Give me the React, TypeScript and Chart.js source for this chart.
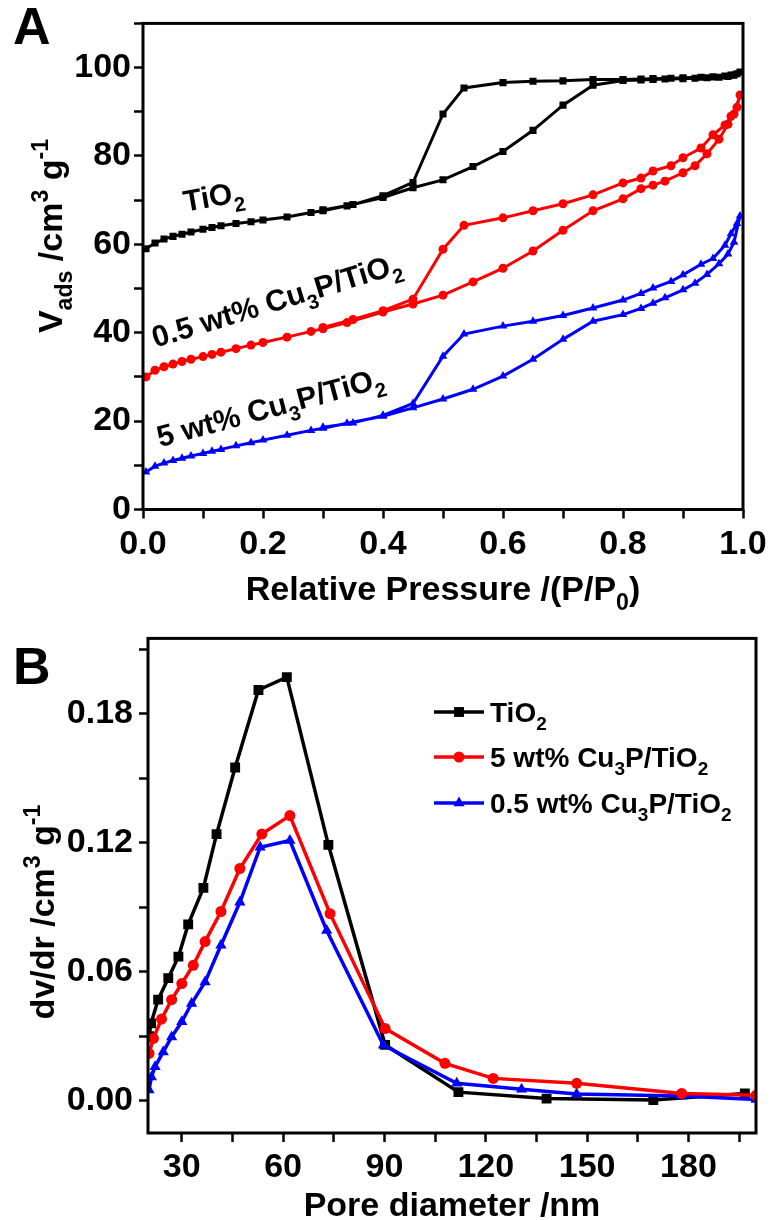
import React, { useEffect, useRef } from 'react';
import { Chart, registerables } from 'chart.js';

Chart.register(...registerables);

// ================= Panel A : N2 isotherms =================
// adsorption branch relative pressures (shared)
const A_ADS_P = [0.005, 0.02, 0.035, 0.05, 0.065, 0.08, 0.1, 0.115, 0.13, 0.155, 0.18, 0.2, 0.24, 0.28, 0.3, 0.34, 0.4, 0.45, 0.5, 0.55, 0.6, 0.65, 0.7, 0.75, 0.8, 0.83, 0.85, 0.87, 0.9, 0.92, 0.94, 0.96, 0.975, 0.985, 0.995];
// desorption branch relative pressures (shared)
const A_DES_P = [0.99, 0.98, 0.97, 0.95, 0.93, 0.9, 0.88, 0.85, 0.83, 0.8, 0.75, 0.7, 0.65, 0.6, 0.535, 0.5, 0.45, 0.4, 0.35, 0.3];

const A_TIO2_ADS = [59.0, 60.3, 61.2, 61.8, 62.3, 62.8, 63.4, 63.8, 64.2, 64.7, 65.1, 65.5, 66.2, 67.2, 67.6, 68.7, 70.6, 72.8, 74.6, 77.6, 81.0, 85.8, 91.5, 96.0, 97.1, 97.2, 97.3, 97.4, 97.5, 97.6, 97.7, 97.8, 98.0, 98.3, 99.0];
const A_TIO2_DES = [98.6, 98.3, 98.1, 97.9, 97.8, 97.7, 97.6, 97.5, 97.4, 97.3, 97.3, 97.0, 96.9, 96.6, 95.4, 89.5, 74.0, 71.0, 69.0, 67.8];

const A_LOW_ADS = [30.0, 31.5, 32.3, 32.9, 33.5, 34.0, 34.6, 35.1, 35.6, 36.4, 37.2, 37.8, 39.0, 40.3, 40.9, 42.3, 44.7, 46.5, 48.5, 51.5, 54.6, 58.5, 63.2, 67.6, 70.3, 72.6, 73.4, 74.3, 76.2, 77.8, 80.5, 83.8, 87.2, 89.5, 93.8];
const A_LOW_DES = [91.0, 89.0, 87.0, 84.8, 81.8, 79.6, 77.8, 76.6, 75.0, 73.9, 71.2, 69.2, 67.6, 66.0, 64.3, 58.9, 47.6, 45.0, 43.0, 41.2];

const A_HIGH_ADS = [8.5, 9.8, 10.5, 11.1, 11.6, 12.1, 12.7, 13.2, 13.6, 14.4, 15.1, 15.7, 16.8, 17.9, 18.4, 19.5, 21.1, 23.0, 25.0, 27.2, 30.2, 34.0, 38.5, 42.6, 44.1, 45.5, 46.7, 47.9, 49.7, 51.2, 53.2, 55.6, 57.8, 60.5, 66.4];
const A_HIGH_DES = [64.7, 62.4, 59.8, 56.8, 55.5, 53.1, 51.6, 50.1, 48.9, 47.4, 45.6, 43.9, 42.6, 41.5, 39.7, 34.7, 24.0, 21.3, 19.6, 18.6];

const A_X_TICKS = [0, 0.1, 0.2, 0.3, 0.4, 0.5, 0.6, 0.7, 0.8, 0.9, 1.0];
const A_X_LABELS = [0, 0.2, 0.4, 0.6, 0.8, 1.0];
const A_Y_TICKS = [0, 10, 20, 30, 40, 50, 60, 70, 80, 90, 100, 110];
const A_Y_LABELS = [0, 20, 40, 60, 80, 100];

// in-plot sample labels (anchored in data coordinates)
const A_NOTE_P = [0.117, 0.222, 0.212];
const A_NOTE_V = [71.0, 47.5, 23.3];

// ================= Panel B : pore size distribution =================
const B_TIO2_D = [20.3, 20.9, 23.0, 26.0, 29.0, 31.9, 36.4, 40.3, 45.8, 52.7, 61.1, 73.4, 90.2, 111.9, 138.0, 169.6, 196.7];
const B_TIO2_V = [0.030, 0.036, 0.047, 0.057, 0.067, 0.082, 0.099, 0.124, 0.155, 0.191, 0.197, 0.119, 0.026, 0.004, 0.001, 0.0003, 0.0034];

const B_HIGH_D = [20.3, 21.6, 24.0, 27.0, 30.0, 33.4, 36.9, 41.6, 47.2, 53.7, 62.0, 73.9, 90.2, 107.9, 122.2, 146.9, 178.0, 200.0];
const B_HIGH_V = [0.022, 0.029, 0.038, 0.047, 0.0545, 0.063, 0.074, 0.088, 0.108, 0.124, 0.1326, 0.087, 0.0336, 0.0174, 0.0104, 0.0081, 0.0034, 0.0025];

const B_LOW_D = [20.3, 21.0, 22.1, 24.5, 27.0, 30.0, 32.9, 36.9, 41.6, 47.2, 53.2, 62.0, 72.9, 89.7, 111.4, 130.6, 146.9, 178.0, 200.0];
const B_LOW_V = [0.005, 0.011, 0.0158, 0.0227, 0.0297, 0.0367, 0.0452, 0.0552, 0.0723, 0.0923, 0.1179, 0.121, 0.0792, 0.0258, 0.0081, 0.0053, 0.0031, 0.0022, 0.0006];

const B_X_TICKS = [30, 45, 60, 75, 90, 105, 120, 135, 150, 165, 180, 195];
const B_X_LABELS = [30, 60, 90, 120, 150, 180];
const B_Y_TICKS = [0, 0.03, 0.06, 0.09, 0.12, 0.15, 0.18, 0.21];
const B_Y_LABELS = [0, 0.06, 0.12, 0.18];

// ================= text helpers =================
type Seg = { t: string; s?: 'sub' | 'sup' };
const FAMILY = "'Liberation Sans', Arial, Helvetica, sans-serif";
const fnt = (size: number) => `bold ${size}px ${FAMILY}`;
const SUBK = 0.68;

const TIO2: Seg[] = [{ t: 'TiO' }, { t: '2', s: 'sub' }];
const CU_LOW: Seg[] = [{ t: '0.5 wt% Cu' }, { t: '3', s: 'sub' }, { t: 'P/TiO' }, { t: '2', s: 'sub' }];
const CU_HIGH: Seg[] = [{ t: '5 wt% Cu' }, { t: '3', s: 'sub' }, { t: 'P/TiO' }, { t: '2', s: 'sub' }];

function richWidth(ctx: CanvasRenderingContext2D, segs: Seg[], size: number) {
  let w = 0;
  for (const s of segs) {
    ctx.font = fnt(s.s ? size * SUBK : size);
    w += ctx.measureText(s.t).width;
  }
  return w;
}

function drawRich(ctx: CanvasRenderingContext2D, segs: Seg[], cx: number, cy: number, size: number, rot = 0, align: 'center' | 'left' = 'center') {
  ctx.save();
  ctx.translate(cx, cy);
  if (rot) ctx.rotate(rot);
  const w = richWidth(ctx, segs, size);
  let x = align === 'center' ? -w / 2 : 0;
  const base = size * 0.36;
  ctx.fillStyle = '#000';
  ctx.textAlign = 'left';
  ctx.textBaseline = 'alphabetic';
  for (const s of segs) {
    const fs = s.s ? size * SUBK : size;
    ctx.font = fnt(fs);
    const dy = s.s === 'sub' ? size * 0.3 : s.s === 'sup' ? -size * 0.42 : 0;
    ctx.fillText(s.t, x, base + dy);
    x += ctx.measureText(s.t).width;
  }
  ctx.restore();
}

function drawMarker(ctx: CanvasRenderingContext2D, style: string, x: number, y: number, r: number, color: string) {
  ctx.save();
  ctx.fillStyle = color;
  ctx.beginPath();
  if (style === 'rect') {
    const h = r * Math.SQRT1_2;
    ctx.rect(x - h, y - h, 2 * h, 2 * h);
  } else if (style === 'triangle') {
    ctx.moveTo(x, y - r);
    ctx.lineTo(x + r * 0.866, y + r * 0.5);
    ctx.lineTo(x - r * 0.866, y + r * 0.5);
    ctx.closePath();
  } else {
    ctx.arc(x, y, r, 0, Math.PI * 2);
  }
  ctx.fill();
  ctx.restore();
}

const pts = (xs: number[], ys: number[]) => xs.map((x, i) => ({ x, y: ys[i] }));
const near = (v: number, list: number[]) => list.some((l) => Math.abs(l - v) < 1e-9);

const TICK_FONT = { size: 34, weight: 'bold' as const, family: FAMILY };

function axis(min: number, max: number, ticks: number[], labels: number[], dec: number, fit: (s: any) => void, pad: number) {
  return {
    type: 'linear' as const,
    min,
    max,
    afterBuildTicks: (s: any) => {
      s.ticks = ticks.map((v) => ({ value: v }));
    },
    afterFit: fit,
    border: { display: false },
    grid: { drawOnChartArea: false, drawTicks: true, tickLength: 9, tickWidth: 2.5, tickColor: '#000' },
    ticks: {
      color: '#000',
      font: TICK_FONT,
      padding: pad,
      autoSkip: false,
      maxRotation: 0,
      minRotation: 0,
      callback: (v: any) => (near(Number(v), labels) ? (dec ? Number(v).toFixed(dec) : String(v)) : ''),
    },
  };
}

const framePlugin = {
  id: 'frame',
  afterDatasetsDraw(chart: any) {
    const { ctx, chartArea: a } = chart;
    ctx.save();
    ctx.strokeStyle = '#000';
    ctx.lineWidth = 3;
    ctx.strokeRect(a.left, a.top, a.right - a.left, a.bottom - a.top);
    ctx.restore();
  },
};

export default function App() {
  const refA = useRef<HTMLCanvasElement>(null);
  const refB = useRef<HTMLCanvasElement>(null);

  useEffect(() => {
    const notesPlugin = {
      id: 'notesA',
      afterDraw(chart: any) {
        const { ctx, chartArea: a } = chart;
        const xs = chart.scales.x;
        const ys = chart.scales.y;
        const notes = [TIO2, CU_LOW, CU_HIGH];
        const angles = [-10, -17, -15];
        notes.forEach((segs, i) => {
          drawRich(ctx, segs, xs.getPixelForValue(A_NOTE_P[i]), ys.getPixelForValue(A_NOTE_V[i]), 30, (angles[i] * Math.PI) / 180);
        });
        // panel letter
        ctx.save();
        ctx.font = fnt(52);
        ctx.fillStyle = '#000';
        ctx.textBaseline = 'alphabetic';
        ctx.fillText('A', 13, 44);
        ctx.restore();
        // axis titles
        drawRich(ctx, [{ t: 'Relative Pressure /(P/P' }, { t: '0', s: 'sub' }, { t: ')' }], (a.left + a.right) / 2, 588, 34);
        drawRich(
          ctx,
          [{ t: 'V' }, { t: 'ads', s: 'sub' }, { t: ' /cm' }, { t: '3', s: 'sup' }, { t: ' g' }, { t: '-1', s: 'sup' }],
          50,
          236,
          34,
          -Math.PI / 2
        );
      },
    };

    const chartA = new Chart(refA.current as HTMLCanvasElement, {
      type: 'line',
      data: {
        datasets: [
          {
            label: 'TiO2',
            data: [...pts(A_ADS_P, A_TIO2_ADS), ...pts(A_DES_P, A_TIO2_DES)],
            borderColor: '#000000',
            backgroundColor: '#000000',
            pointStyle: 'rect',
            pointRadius: 5,
            pointBorderWidth: 0,
            borderWidth: 3,
            tension: 0,
          },
          {
            label: '0.5 wt% Cu3P/TiO2',
            data: [...pts(A_ADS_P, A_LOW_ADS), ...pts(A_DES_P, A_LOW_DES)],
            borderColor: '#ff0000',
            backgroundColor: '#ff0000',
            pointStyle: 'circle',
            pointRadius: 4.5,
            pointBorderWidth: 0,
            borderWidth: 3,
            tension: 0,
          },
          {
            label: '5 wt% Cu3P/TiO2',
            data: [...pts(A_ADS_P, A_HIGH_ADS), ...pts(A_DES_P, A_HIGH_DES)],
            borderColor: '#0000ff',
            backgroundColor: '#0000ff',
            pointStyle: 'triangle',
            pointRadius: 5,
            pointBorderWidth: 0,
            borderWidth: 3,
            tension: 0,
          },
        ],
      },
      options: {
        responsive: false,
        maintainAspectRatio: false,
        devicePixelRatio: 1,
        animation: false,
        layout: { padding: { top: 20, right: 31, left: 0, bottom: 0 } },
        plugins: { legend: { display: false }, tooltip: { enabled: false } },
        scales: {
          x: axis(0, 1, A_X_TICKS, A_X_LABELS, 1, (s: any) => { s.height = 102.5; }, 6),
          y: axis(0, 110, A_Y_TICKS, A_Y_LABELS, 0, (s: any) => { s.width = 143; }, 3),
        },
      } as any,
      plugins: [framePlugin, notesPlugin],
    });

    const legendPlugin = {
      id: 'legendB',
      afterDraw(chart: any) {
        const { ctx, chartArea: a } = chart;
        const items = [
          { segs: TIO2, color: '#000000', style: 'rect', r: 7 },
          { segs: CU_HIGH, color: '#ff0000', style: 'circle', r: 5.5 },
          { segs: CU_LOW, color: '#0000ff', style: 'triangle', r: 6.5 },
        ];
        const rows = [100, 145, 191];
        items.forEach((it, i) => {
          const y = rows[i];
          ctx.save();
          ctx.strokeStyle = it.color;
          ctx.lineWidth = 3.5;
          ctx.beginPath();
          ctx.moveTo(434, y);
          ctx.lineTo(484, y);
          ctx.stroke();
          ctx.restore();
          drawMarker(ctx, it.style, 459, y, it.r, it.color);
          drawRich(ctx, it.segs, 490, y, 28, 0, 'left');
        });
        ctx.save();
        ctx.font = fnt(52);
        ctx.fillStyle = '#000';
        ctx.fillText('B', 13, 72);
        ctx.restore();
        drawRich(ctx, [{ t: 'Pore diameter /nm' }], (a.left + a.right) / 2, 592, 34);
        drawRich(
          ctx,
          [{ t: 'dv/dr /cm' }, { t: '3', s: 'sup' }, { t: ' g' }, { t: '-1', s: 'sup' }],
          42,
          300,
          34,
          -Math.PI / 2
        );
      },
    };

    const chartB = new Chart(refB.current as HTMLCanvasElement, {
      type: 'line',
      data: {
        datasets: [
          {
            label: 'TiO2',
            data: pts(B_TIO2_D, B_TIO2_V),
            borderColor: '#000000',
            backgroundColor: '#000000',
            pointStyle: 'rect',
            pointRadius: 7,
            pointBorderWidth: 0,
            borderWidth: 3.5,
            tension: 0,
            order: 2,
          },
          {
            label: '5 wt% Cu3P/TiO2',
            data: pts(B_HIGH_D, B_HIGH_V),
            borderColor: '#ff0000',
            backgroundColor: '#ff0000',
            pointStyle: 'circle',
            pointRadius: 5.5,
            pointBorderWidth: 0,
            borderWidth: 3.5,
            tension: 0,
            order: 0,
          },
          {
            label: '0.5 wt% Cu3P/TiO2',
            data: pts(B_LOW_D, B_LOW_V),
            borderColor: '#0000ff',
            backgroundColor: '#0000ff',
            pointStyle: 'triangle',
            pointRadius: 6.5,
            pointBorderWidth: 0,
            borderWidth: 3.5,
            tension: 0,
            order: 1,
          },
        ],
      },
      options: {
        responsive: false,
        maintainAspectRatio: false,
        devicePixelRatio: 1,
        animation: false,
        layout: { padding: { top: 26, right: 18, left: 0, bottom: 0 } },
        plugins: { legend: { display: false }, tooltip: { enabled: false } },
        scales: {
          x: axis(20, 200, B_X_TICKS, B_X_LABELS, 0, (s: any) => { s.height = 87; }, 5),
          y: axis(-0.015, 0.215, B_Y_TICKS, B_Y_LABELS, 2, (s: any) => { s.width = 148; }, 6),
        },
      } as any,
      plugins: [framePlugin, legendPlugin],
    });

    return () => {
      chartA.destroy();
      chartB.destroy();
    };
  }, []);

  return (
    <div style={{ position: 'absolute', left: 0, top: 0, width: 774, height: 1220, background: '#fff', overflow: 'hidden' }}>
      <canvas ref={refA} width={774} height={612} style={{ position: 'absolute', left: 0, top: 0, width: 774, height: 612 }} />
      <canvas ref={refB} width={774} height={608} style={{ position: 'absolute', left: 0, top: 612, width: 774, height: 608 }} />
    </div>
  );
}
